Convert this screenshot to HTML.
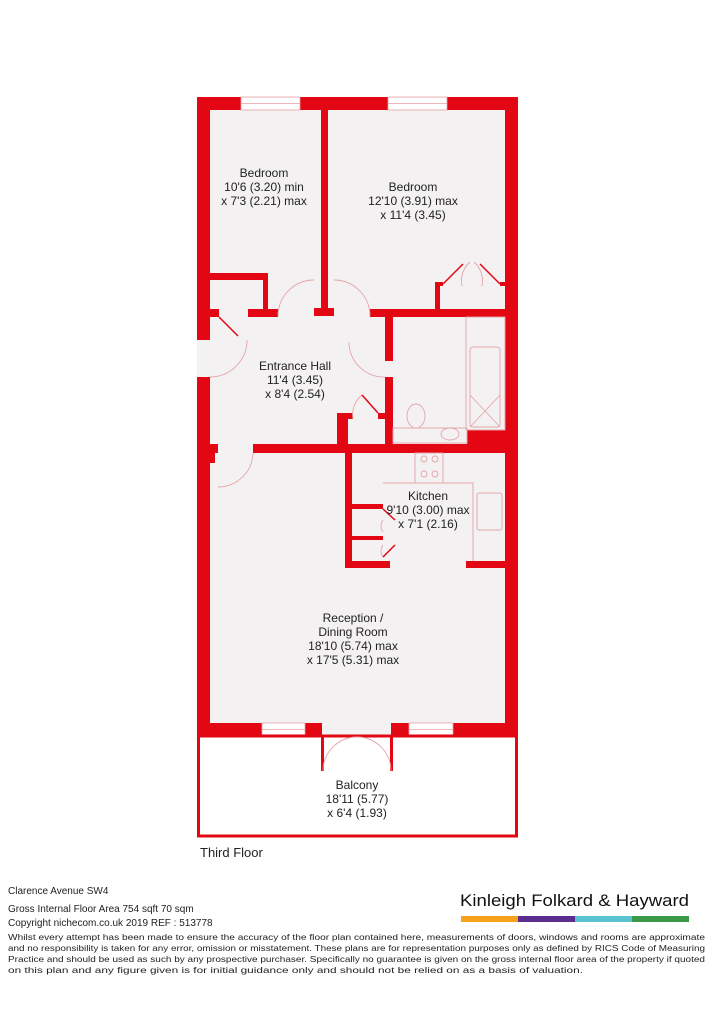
<!DOCTYPE html>
<html><head><meta charset="utf-8"><style>
html,body{margin:0;padding:0;background:#fff;}
svg{display:block;font-family:"Liberation Sans",sans-serif;}
</style></head><body>
<svg width="715" height="1033" viewBox="0 0 715 1033" xmlns="http://www.w3.org/2000/svg">
<rect x="197" y="97" width="321" height="639" fill="#f3f1f1"/>
<g fill="#e30613">
<rect x="197" y="97" width="44" height="13"/>
<rect x="300" y="97" width="88" height="13"/>
<rect x="447" y="97" width="71" height="13"/>
<rect x="505" y="97" width="13" height="639"/>
<rect x="197" y="97" width="13" height="243"/>
<rect x="197" y="377" width="13" height="359"/>
<rect x="321" y="110" width="7" height="205"/>
<rect x="314" y="308" width="20" height="8"/>
<rect x="210" y="273" width="58" height="7"/>
<rect x="263" y="273" width="5" height="44"/>
<rect x="248" y="309" width="30" height="8"/>
<rect x="210" y="309" width="9" height="8"/>
<rect x="370" y="309" width="148" height="8"/>
<rect x="435" y="282" width="5" height="30"/>
<rect x="435" y="282" width="8" height="4"/>
<rect x="500" y="282" width="6" height="4"/>
<rect x="385" y="309" width="8" height="52"/>
<rect x="385" y="377" width="8" height="70"/>
<rect x="467" y="430" width="38" height="15"/>
<rect x="337" y="413" width="11" height="35"/>
<rect x="337" y="413" width="16" height="6"/>
<rect x="378" y="413" width="8" height="6"/>
<rect x="210" y="444" width="8" height="9"/>
<rect x="253" y="444" width="252" height="9"/>
<rect x="210" y="453" width="5" height="10"/>
<rect x="345" y="452" width="7" height="116"/>
<rect x="345" y="561" width="45" height="7"/>
<rect x="466" y="561" width="39" height="7"/>
<rect x="352" y="504" width="31" height="5"/>
<rect x="352" y="536" width="31" height="4"/>
<rect x="197" y="723" width="65" height="13"/>
<rect x="305" y="723" width="17" height="13"/>
<rect x="391" y="723" width="18" height="13"/>
<rect x="453" y="723" width="65" height="13"/>
</g>
<g fill="#fff" stroke="#e8a0a4" stroke-width="0.8">
<rect x="241" y="97" width="59" height="13"/>
<line x1="241" y1="103.5" x2="300" y2="103.5"/>
<rect x="388" y="97" width="59" height="13"/>
<line x1="388" y1="103.5" x2="447" y2="103.5"/>
<rect x="262" y="723" width="43" height="13"/>
<line x1="262" y1="729.5" x2="305" y2="729.5"/>
<rect x="409" y="723" width="44" height="13"/>
<line x1="409" y1="729.5" x2="453" y2="729.5"/>
</g>
<rect x="198.5" y="736" width="318" height="100" fill="#fff" stroke="#e30613" stroke-width="3"/>
<rect x="321" y="736" width="3" height="35" fill="#e30613"/>
<rect x="390" y="736" width="3" height="35" fill="#e30613"/>
<g fill="none" stroke="#e6a5a8" stroke-width="0.9">
<path d="M278 316 A36 36 0 0 1 314 280"/>
<path d="M334 280 A36 36 0 0 1 370 316"/>
<path d="M210 377 A37 37 0 0 0 247 340"/>
<path d="M349 342 A35 35 0 0 0 385 377"/>
<path d="M218 487 A35 35 0 0 0 253 453"/>
<path d="M353 419 A25 25 0 0 1 362 395"/>
<path d="M462 286 A25 25 0 0 1 470 262"/>
<path d="M474 262 A25 25 0 0 1 482 286"/>
<path d="M323 771 A34 34 0 0 1 357 737"/>
<path d="M391 771 A34 34 0 0 0 357 737"/>
<path d="M383 520 A10 10 0 0 0 383 532"/>
<path d="M383 545 A10 10 0 0 0 383 557"/>
<rect x="466" y="317" width="39" height="113"/>
<rect x="470" y="347" width="30" height="80" rx="3"/>
<path d="M470 395 L500 427 M500 395 L470 427"/>
<rect x="393" y="428" width="74" height="15"/>
<ellipse cx="416" cy="416" rx="9" ry="12"/>
<ellipse cx="450" cy="434" rx="9" ry="6"/>
<rect x="415" y="453" width="28" height="30"/>
<circle cx="424" cy="459" r="3"/><circle cx="435" cy="459" r="3"/>
<circle cx="424" cy="474" r="3"/><circle cx="435" cy="474" r="3"/>
<path d="M383 483 L473 483 L473 561"/>
<rect x="477" y="493" width="25" height="37" rx="2"/>
</g>
<g fill="none" stroke="#e30613" stroke-width="1.5">
<path d="M219 317 L238 336"/>
<path d="M443 284 L463 264"/>
<path d="M480 264 L500 284"/>
<path d="M362 395 L378 413"/>
<path d="M383 509 L395 520"/>
<path d="M383 557 L395 545"/>
</g>
<g font-size="12" fill="#222" text-anchor="middle">
<text x="264" y="177">Bedroom</text>
<text x="264" y="191">10'6 (3.20) min</text>
<text x="264" y="205">x 7'3 (2.21) max</text>
<text x="413" y="191">Bedroom</text>
<text x="413" y="205">12'10 (3.91) max</text>
<text x="413" y="219">x 11'4 (3.45)</text>
<text x="295" y="370">Entrance Hall</text>
<text x="295" y="384">11'4 (3.45)</text>
<text x="295" y="398">x 8'4 (2.54)</text>
<text x="428" y="500">Kitchen</text>
<text x="428" y="514">9'10 (3.00) max</text>
<text x="428" y="528">x 7'1 (2.16)</text>
<text x="353" y="622">Reception /</text>
<text x="353" y="636">Dining Room</text>
<text x="353" y="650">18'10 (5.74) max</text>
<text x="353" y="664">x 17'5 (5.31) max</text>
<text x="357" y="789">Balcony</text>
<text x="357" y="803">18'11 (5.77)</text>
<text x="357" y="817">x 6'4 (1.93)</text>
</g>
<text x="200" y="857" font-size="13" fill="#222">Third Floor</text>
<g font-size="10" fill="#222">
<text x="8" y="894">Clarence Avenue  SW4</text>
<text x="8" y="912">Gross Internal Floor Area 754 sqft 70 sqm</text>
<text x="8" y="926">Copyright nichecom.co.uk 2019 REF : 513778</text>
</g>
<g font-size="8.6" fill="#222">
<text x="8" y="940" textLength="697" lengthAdjust="spacingAndGlyphs">Whilst every attempt has been made to ensure the accuracy of the floor plan contained here, measurements of doors, windows and rooms are approximate</text>
<text x="8" y="951" textLength="697" lengthAdjust="spacingAndGlyphs">and no responsibility is taken for any error, omission or misstatement. These plans are for representation purposes only as defined by RICS Code of Measuring</text>
<text x="8" y="962" textLength="697" lengthAdjust="spacingAndGlyphs">Practice and should be used as such by any prospective purchaser. Specifically no guarantee is given on the gross internal floor area of the property if quoted</text>
<text x="8" y="973" textLength="575" lengthAdjust="spacingAndGlyphs">on this plan and any figure given is for initial guidance only and should not be relied on as a basis of valuation.</text>
</g>
<text x="460" y="906" font-size="17" fill="#111" textLength="229" lengthAdjust="spacingAndGlyphs">Kinleigh Folkard &amp; Hayward</text>
<rect x="461" y="916" width="57" height="6" fill="#f7a21b"/>
<rect x="518" y="916" width="57" height="6" fill="#5b2d8e"/>
<rect x="575" y="916" width="57" height="6" fill="#5bc2cf"/>
<rect x="632" y="916" width="57" height="6" fill="#3a9a48"/>
</svg>
</body></html>
